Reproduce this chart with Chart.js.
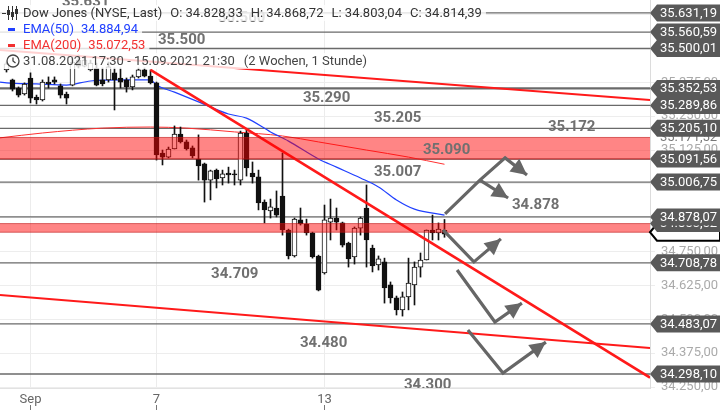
<!doctype html>
<html lang="de">
<head>
<meta charset="UTF-8" />
<title>Dow Jones 1h</title>
<style>
html,body{margin:0;padding:0;background:#fff}
#canvas{display:block}
</style>
</head>
<body>
<canvas id="canvas" width="720" height="410"></canvas>
<script src="https://cdn.jsdelivr.net/npm/chart.js@4"></script>
<script>
// hourly candles 31.08.2021 17:30 - 15.09.2021 21:30, index 0 = first candle
const opens  = [35421,35384,35354,35332,35391,35321,35310,35376,35384,35362,35332,35365,35457,35435,35421,35428,35384,35384,35410,35391,35384,35358,35395,35421,35398,35373,35114,35099,35129,35184,35155,35133,35092,35074,35014,35051,35022,35040,35037,35014,35188,35040,35026,34933,34900,34911,34955,34830,34734,34867,34852,34819,34734,34671,34859,34874,34856,34782,34730,34837,34911,34763,34701,34712,34627,34579,34535,34583,34627,34693,34719,34830,34819,34828.33]
const highs  = [35450,35387,35358,35373,35410,35328,35384,35395,35395,35369,35339,35465,35476,35469,35457,35446,35428,35450,35428,35428,35391,35402,35428,35428,35421,35376,35125,35136,35214,35210,35162,35140,35181,35077,35051,35055,35051,35062,35051,35195,35199,35081,35051,34941,34944,34974,35114,34833,34874,34911,34870,34822,34737,34922,34944,34911,34859,34785,34841,34878,34996,34774,34734,34726,34638,34586,34601,34726,34712,34745,34830,34885,34856,34868.72]
const lows   = [35413,35343,35321,35328,35299,35295,35306,35354,35369,35317,35295,35362,35428,35432,35417,35362,35362,35376,35273,35354,35339,35347,35391,35395,35369,35088,35070,35096,35129,35151,35125,35096,35014,34933,34941,34985,34996,35003,34996,34996,35029,35003,34904,34856,34874,34878,34811,34723,34730,34848,34811,34726,34605,34667,34793,34830,34767,34693,34704,34811,34693,34675,34682,34560,34560,34516,34512,34535,34553,34656,34719,34793,34793,34803.04]
const closes = [35443,35350,35328,35369,35317,35310,35376,35369,35376,35328,35317,35450,35435,35457,35446,35365,35369,35432,35384,35376,35358,35395,35421,35398,35373,35107,35099,35129,35184,35155,35129,35103,35066,35014,35048,35018,35037,35033,35033,35188,35059,35026,34930,34904,34915,34885,34830,34734,34870,34852,34819,34730,34608,34867,34874,34859,34774,34723,34837,34874,34793,34697,34723,34616,34579,34535,34583,34634,34693,34719,34830,34819,34833,34814.39]

// moving averages, read at a few candles
const ema50At  = [-1.08,0,5,10,14,20,24,25,28,32,37,40,44,47,52,55,59,62,65,68,73]
const ema50    = [35376,35373,35369,35365,35380,35384,35384,35365,35339,35303,35258,35243,35192,35158,35092,35062,35022,34989,34941,34907,34884.94]
const ema200At = [-1.08,6,16,24,30,38,46,52,60,67,73]
const ema200   = [35170,35188,35206,35210,35206,35192,35177,35155,35125,35099,35072.53]

// day ticks on the time axis
const dayTicks  = [4, 25, 53]
const dayLabels = ['Sep', '7', '13']
const priceTicks = [34250,34375,34500,34625,34750,34875,35000,35125,35250,35375,35500,35625]

// marked levels and zones
const levels   = [35631.19,35560.59,35500.01,35352.53,35289.86,35205.10,35091.56,35006.75,34878.07,34708.78,34483.07,34298.10]
const zoneLow  = [35091.56, 34821.55]
const zoneHigh = [35171.52, 34853.52]

// level captions: text, candle index of left edge, price at text middle
const noteText  = ['35.631','35.560','35.500','35.290','35.205','35.172','35.090','35.007','34.878','34.709','34.480','34.300']
const noteAt    = [9.25,35.25,25.25,49.4,61.25,90.25,69.4,61.25,84.25,34.1,48.9,66.25]
const notePrice = [35672,35613,35531,35317,35243,35210,35125,35044,34922,34667,34413,34258]

// trend lines [index, price]
const X_MIN = -1.083, X_MAX = 107.25
const upperChannel = [[X_MIN,35494],[X_MAX,35310]]
const mainTrend    = [[24,35421],[X_MAX,34285]]
const lowerChannel = [[X_MIN,34590],[X_MAX,34394]]

// scenario arrows [index, price], arrow head at the last point
const arrows = [
  [[73.1,34889],[78.9,35014],[83.1,35096],[86.75,35033]],
  [[78.9,35014],[83.6,34948]],
  [[72.75,34830],[77.9,34712],[82.4,34797]],
  [[75.1,34682],[81.4,34490],[85.9,34560]],
  [[76.9,34461],[82.75,34302],[89.9,34416]]
]

const legendOHLC = ['Dow Jones (NYSE, Last)','O: 34.828,33','H: 34.868,72','L: 34.803,04','C: 34.814,39']

function GEBI(e){return document.getElementById(e)}
function fmt(v, d){
  const s = v.toFixed(d).split('.')
  const int = s[0].replace(/\B(?=(\d{3})+(?!\d))/g, '.')
  return d ? int + ',' + s[1] : int
}
const pts = arr => arr.map(p => ({x: p[0], y: p[1]}))

const datasets = []
levels.forEach(v => datasets.push({
  type: 'line', data: [{x: X_MIN, y: v}, {x: X_MAX, y: v}],
  borderColor: '#6a6a6a', borderWidth: v === 35352.53 ? 2.2 : 1.3, pointRadius: 0, order: 9
}))
datasets.push({type:'line', data: ema200At.map((x,i)=>({x, y: ema200[i]})), borderColor:'#ff3030', borderWidth:1, pointRadius:0, cubicInterpolationMode:'monotone', order:8})
datasets.push({type:'line', data: ema50At.map((x,i)=>({x, y: ema50[i]})), borderColor:'#2040ff', borderWidth:1.2, pointRadius:0, cubicInterpolationMode:'monotone', order:7})
datasets.push({
  type: 'bar', data: lows.map((l,i)=>({x: i, y: [l, highs[i]]})),
  backgroundColor: '#111', borderWidth: 0, barThickness: 1, grouped: false, order: 4
})
datasets.push({
  type: 'bar', data: opens.map((o,i)=>({x: i, y: [o, closes[i]]})),
  backgroundColor: opens.map((o,i)=> closes[i] >= o ? '#ffffff' : '#111111'),
  borderColor: '#111', borderWidth: 1, borderSkipped: false, barThickness: 5, grouped: false, order: 3
})
datasets.push({type:'line', data: pts(upperChannel), borderColor:'#ff1a1a', borderWidth:2, pointRadius:0, order:1})
datasets.push({type:'line', data: pts(mainTrend), borderColor:'#ff1a1a', borderWidth:2.5, pointRadius:0, order:1})
datasets.push({type:'line', data: pts(lowerChannel), borderColor:'#ff1a1a', borderWidth:2, pointRadius:0, order:1})

function tagShape(ctx, left, yp){
  const h = 17, body = left + 7
  ctx.beginPath()
  ctx.moveTo(left, yp)
  ctx.lineTo(body, yp - h/2)
  ctx.lineTo(720, yp - h/2)
  ctx.lineTo(720, yp + h/2)
  ctx.lineTo(body, yp + h/2)
  ctx.closePath()
}
function tag(ctx, left, yp, text){
  tagShape(ctx, left, yp)
  ctx.fillStyle = '#595959'
  ctx.fill()
  ctx.fillStyle = '#fff'
  ctx.font = '13px Roboto'
  ctx.textAlign = 'left'
  ctx.textBaseline = 'middle'
  ctx.fillText(text, left + 10, yp + 0.5)
}

function drawArrow(ctx, path){
  ctx.beginPath()
  ctx.moveTo(path[0][0], path[0][1])
  for (let i = 1; i < path.length; i++) ctx.lineTo(path[i][0], path[i][1])
  const [ax, ay] = path[path.length-2], [bx, by] = path[path.length-1]
  const ang = Math.atan2(by-ay, bx-ax)
  ctx.stroke()
  ctx.beginPath()
  ctx.moveTo(bx, by)
  ctx.lineTo(bx - 16*Math.cos(ang) + 8*Math.sin(ang), by - 16*Math.sin(ang) - 8*Math.cos(ang))
  ctx.lineTo(bx - 16*Math.cos(ang) - 8*Math.sin(ang), by - 16*Math.sin(ang) + 8*Math.cos(ang))
  ctx.closePath()
  ctx.fill()
}

const overlay = {
  id: 'overlay',
  afterDatasetsDraw(chart){
    const {ctx, chartArea: a, scales: {x, y}} = chart
    ctx.save()
    ctx.beginPath(); ctx.rect(a.left, a.top, a.width, a.height); ctx.clip()
    // zones, painted over the candles
    zoneLow.forEach((lo, i) => {
      const t = y.getPixelForValue(zoneHigh[i]), b = y.getPixelForValue(lo)
      ctx.fillStyle = 'rgba(255,0,0,0.48)'
      ctx.fillRect(a.left, t, a.width, b - t)
      ctx.strokeStyle = 'rgba(190,20,20,0.6)'; ctx.lineWidth = 1
      ctx.beginPath(); ctx.moveTo(a.left, t); ctx.lineTo(a.right, t); ctx.moveTo(a.left, b); ctx.lineTo(a.right, b); ctx.stroke()
    })
    // captions
    ctx.font = 'bold 15px Roboto'
    ctx.fillStyle = '#707070'
    ctx.textBaseline = 'middle'
    noteText.forEach((t, i) => ctx.fillText(t, x.getPixelForValue(noteAt[i]), y.getPixelForValue(notePrice[i])))
    // arrows
    ctx.strokeStyle = '#666'; ctx.fillStyle = '#666'; ctx.lineWidth = 3.2; ctx.lineJoin = 'miter'
    arrows.forEach(p => drawArrow(ctx, p.map(q => [x.getPixelForValue(q[0]), y.getPixelForValue(q[1])])))
    ctx.restore()
  },
  afterDraw(chart){
    const {ctx, chartArea: a, scales: {x, y}} = chart
    ctx.save()
    // day tick marks under the labels
    ctx.strokeStyle = '#777'; ctx.lineWidth = 1
    dayTicks.forEach(v => {
      const px = Math.round(x.getPixelForValue(v)) + 0.5
      ctx.beginPath(); ctx.moveTo(px, 405); ctx.lineTo(px, 410); ctx.stroke()
    })
    // zone edge values, mostly hidden under the level tags
    ctx.font = '13px Roboto'; ctx.textBaseline = 'middle'; ctx.textAlign = 'left'
    ctx.fillStyle = '#777'
    ctx.fillText(fmt(zoneHigh[0], 2), a.right + 10, y.getPixelForValue(zoneHigh[0]) + 0.5)
    const zl = y.getPixelForValue(zoneLow[1])
    tagShape(ctx, a.right, zl)
    ctx.fillStyle = '#fff'; ctx.fill()
    ctx.strokeStyle = '#000'; ctx.lineWidth = 2; ctx.stroke()
    tag(ctx, a.right, y.getPixelForValue(zoneHigh[1]), fmt(zoneHigh[1], 2))
    // price tags on the right axis
    levels.forEach(v => tag(ctx, a.right, y.getPixelForValue(v), fmt(v, 2)))

    // legend block
    ctx.font = '13px Roboto'
    ctx.textBaseline = 'middle'
    ctx.textAlign = 'left'
    const rows = [
      {y: 13, parts: legendOHLC, gap: 8, color: '#333'},
      {y: 29, parts: ['EMA(50)', fmt(ema50[ema50.length-1], 2)], gap: 7, color: '#2040ff'},
      {y: 45, parts: ['EMA(200)', fmt(ema200[ema200.length-1], 2)], gap: 7, color: '#f23030'},
      {y: 61, parts: ['31.08.2021 17:30 - 15.09.2021 21:30', '(2 Wochen, 1 Stunde)'], gap: 9, color: '#444'}
    ]
    rows.forEach(r => {
      let w = 23
      r.parts.forEach((p, i) => { w += ctx.measureText(p).width + (i < r.parts.length-1 ? r.gap : 0) })
      ctx.fillStyle = 'rgba(255,255,255,0.8)'
      ctx.fillRect(0, r.y - 8, w + 4, 16)
      ctx.fillStyle = r.color
      let px = 23
      r.parts.forEach(p => { ctx.fillText(p, px, r.y + 0.5); px += ctx.measureText(p).width + r.gap })
    })
    // candle icon
    ctx.strokeStyle = '#333'; ctx.fillStyle = '#333'; ctx.lineWidth = 1
    ctx.beginPath(); ctx.moveTo(2, 13.5); ctx.lineTo(6, 13.5)
    ;[8.5, 12.5, 16.5].forEach(cx => { ctx.moveTo(cx, 6); ctx.lineTo(cx, 20) })
    ctx.stroke()
    ctx.fillRect(7, 10, 3, 5); ctx.fillRect(11, 12, 3, 5); ctx.fillRect(15, 9, 3, 5)
    // series markers
    ctx.fillStyle = '#2040ff'; ctx.fillRect(8, 28, 7, 3)
    ctx.fillStyle = '#f23030'; ctx.fillRect(8, 44, 7, 3)
    // clock
    ctx.strokeStyle = '#444'; ctx.lineWidth = 1.3
    ctx.beginPath(); ctx.arc(13, 61, 6, 0, Math.PI*2); ctx.stroke()
    ctx.beginPath(); ctx.moveTo(13, 57.5); ctx.lineTo(13, 61); ctx.lineTo(15.5, 63); ctx.stroke()
    ctx.restore()
  }
}

new Chart(GEBI('canvas'), {
  type: 'line',
  data: {datasets},
  options: {
    responsive: false,
    animation: false,
    devicePixelRatio: 1,
    layout: {padding: 0},
    plugins: {legend: {display: false}, tooltip: {enabled: false}},
    scales: {
      x: {
        type: 'linear', min: X_MIN, max: X_MAX, offset: false,
        afterBuildTicks: s => { s.ticks = dayTicks.map(v => ({value: v})) },
        ticks: {callback: v => dayLabels[dayTicks.indexOf(v)], color: '#666', font: {size: 13, family: 'Roboto'}, padding: 4, maxRotation: 0, autoSkip: false},
        grid: {color: '#ececec', drawTicks: false, offset: false},
        border: {color: '#e2e2e2'},
        afterFit: s => { s.height = 22; s.paddingLeft = 0; s.paddingRight = 0 }
      },
      y: {
        type: 'linear', position: 'right', min: 34246.5, max: 35679, beginAtZero: false,
        afterBuildTicks: s => { s.ticks = priceTicks.map(v => ({value: v})) },
        ticks: {callback: v => fmt(v, 2), color: '#aaa', font: {size: 13, family: 'Roboto'}, padding: 6},
        grid: {color: '#ededed', tickLength: 5},
        border: {color: '#dcdcdc'},
        afterFit: s => { s.width = 70; s.paddingTop = 0; s.paddingBottom = 0 }
      }
    }
  },
  plugins: [overlay]
})
</script>
</body>
</html>
